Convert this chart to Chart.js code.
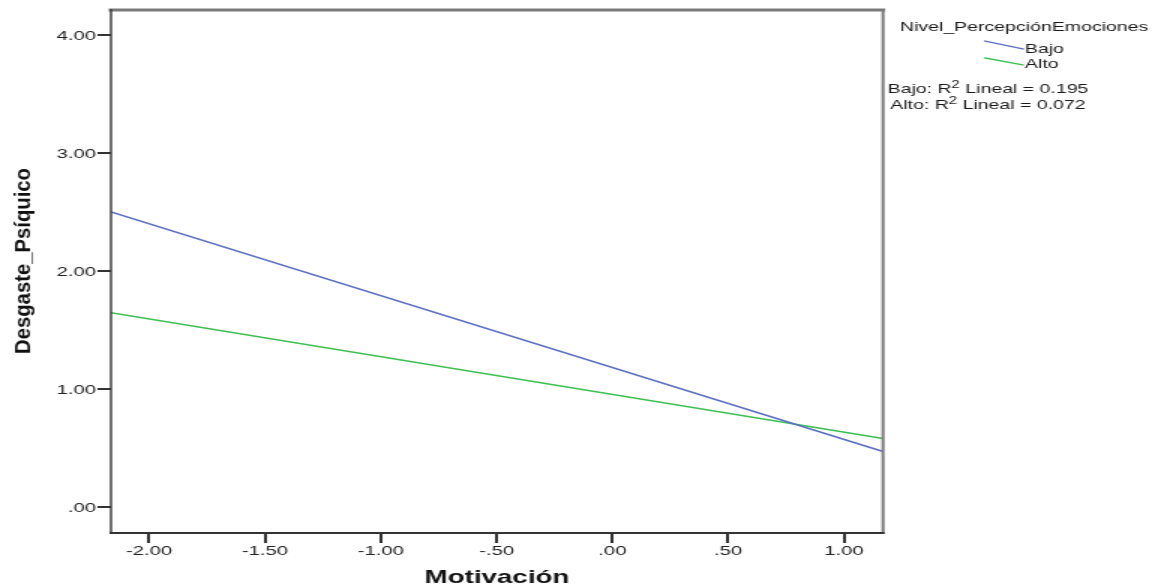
<!DOCTYPE html>
<html lang="es">
<head>
    <script src="https://cdn.jsdelivr.net/npm/chart.js@4.4.0/dist/chart.umd.min.js"></script>
    <style>
        body { margin: 0; background: #fff; }
        #canvas-container { position: relative; width: 1161px; height: 586px; }
    </style>
</head>
<body>

<div id="canvas-container">
    <!-- drawn narrow, shown 1.5x wider like the stretched SPSS export -->
    <canvas id="fit-chart" width="774" height="586" style="width:1161px;height:586px"></canvas>
</div>

<script>
    // fitted lines (ends at the plot edges)
    const xValues = [-2.164, 1.168];
    const bajoValues = [2.50, 0.47];
    const altoValues = [1.645, 0.58];

    const seriesNames = ["Bajo", "Alto"];
    const r2Values = ["0.195", "0.072"];
    const legendTitle = "Nivel_PercepciónEmociones";

    const xTicks = [-2, -1.5, -1, -0.5, 0, 0.5, 1];
    const xTickLabels = ["-2.00", "-1.50", "-1.00", "-.50", ".00", ".50", "1.00"];
    const yTicks = [0, 1, 2, 3, 4];
    const yTickLabels = [".00", "1.00", "2.00", "3.00", "4.00"];

    const bajoColor = "#5b6fc2";
    const altoColor = "#3dbf52";
    const FONT = "'Liberation Sans', Arial, sans-serif";
    const SX = 1.5; // horizontal stretch of the displayed canvas

    const toPoints = ys => xValues.map((x, i) => ({ x: x, y: ys[i] }));

    // frame, y title and the SPSS style legend
    const extras = {
        id: "extras",
        afterDraw(chart) {
            const ctx = chart.ctx;
            const a = chart.chartArea;
            ctx.save();

            // frame
            ctx.lineCap = "square";
            ctx.strokeStyle = "#7a7a7a";
            ctx.lineWidth = 3;
            ctx.beginPath();
            ctx.moveTo(a.left, a.top);
            ctx.lineTo(a.right, a.top);
            ctx.stroke();
            ctx.lineWidth = 2;
            ctx.beginPath();
            ctx.moveTo(a.right, a.top);
            ctx.lineTo(a.right, a.bottom);
            ctx.stroke();
            ctx.strokeStyle = "#333";
            ctx.lineWidth = 1.4;
            ctx.beginPath();
            ctx.moveTo(a.left, a.top);
            ctx.lineTo(a.left, a.bottom);
            ctx.stroke();
            ctx.lineWidth = 2;
            ctx.beginPath();
            ctx.moveTo(a.left, a.bottom);
            ctx.lineTo(a.right, a.bottom);
            ctx.stroke();

            // y title, condensed along its length (not stretched on screen)
            ctx.save();
            ctx.translate(23 / SX, 261);
            ctx.rotate(-Math.PI / 2);
            ctx.font = "bold 23px " + FONT;
            const tw = ctx.measureText("Desgaste_Psíquico").width;
            ctx.scale(186 / tw, 1 / SX);
            ctx.fillStyle = "#111";
            ctx.textAlign = "center";
            ctx.textBaseline = "middle";
            ctx.fillText("Desgaste_Psíquico", 0, 0);
            ctx.restore();

            // legend
            ctx.fillStyle = "#1a1a1a";
            ctx.textBaseline = "alphabetic";
            ctx.textAlign = "left";
            ctx.font = "13px " + FONT;
            ctx.fillText(legendTitle, 900 / SX, 31);

            const colors = [bajoColor, altoColor];
            const rows = [[41, 49, 53], [58, 65, 68]];
            ctx.lineWidth = 1.3;
            seriesNames.forEach((name, i) => {
                ctx.strokeStyle = colors[i];
                ctx.beginPath();
                ctx.moveTo(985 / SX, rows[i][0]);
                ctx.lineTo(1023 / SX, rows[i][1]);
                ctx.stroke();
                ctx.fillText(name, 1025 / SX, rows[i][2]);
            });

            // R2 lines, centred under the legend
            const baselines = [93, 109];
            seriesNames.forEach((name, i) => {
                const p1 = name + ": R";
                const p2 = "2";
                const p3 = " Lineal = " + r2Values[i];
                ctx.font = "13px " + FONT;
                const w1 = ctx.measureText(p1).width;
                const w3 = ctx.measureText(p3).width;
                ctx.font = "10px " + FONT;
                const w2 = ctx.measureText(p2).width;
                let x = 988 / SX - (w1 + w2 + w3) / 2;
                const y = baselines[i];
                ctx.font = "13px " + FONT;
                ctx.fillText(p1, x, y);
                x += w1;
                ctx.font = "10px " + FONT;
                ctx.fillText(p2, x, y - 5);
                x += w2;
                ctx.font = "13px " + FONT;
                ctx.fillText(p3, x, y);
            });

            ctx.restore();
        }
    };

    new Chart(document.getElementById("fit-chart"), {
        type: "scatter",
        data: {
            datasets: [
                {
                    label: seriesNames[0],
                    data: toPoints(bajoValues),
                    showLine: true,
                    borderColor: bajoColor,
                    borderWidth: 1.5,
                    pointRadius: 0
                },
                {
                    label: seriesNames[1],
                    data: toPoints(altoValues),
                    showLine: true,
                    borderColor: altoColor,
                    borderWidth: 1.5,
                    pointRadius: 0
                }
            ]
        },
        options: {
            responsive: false,
            animation: false,
            devicePixelRatio: 1,
            layout: { padding: { top: 10, right: 774 - 883 / SX, left: 0, bottom: 0 } },
            plugins: {
                legend: { display: false },
                tooltip: { enabled: false }
            },
            scales: {
                x: {
                    type: "linear",
                    min: xValues[0],
                    max: xValues[1],
                    afterBuildTicks: s => { s.ticks = xTicks.map(v => ({ value: v })); },
                    afterFit: s => { s.height = 53; },
                    grid: { drawOnChartArea: false, tickLength: 10, color: "#333", lineWidth: 2 },
                    border: { display: false },
                    ticks: {
                        autoSkip: false,
                        maxRotation: 0,
                        padding: 0,
                        color: "#222",
                        font: { family: FONT, size: 13.5 },
                        callback: v => xTickLabels[xTicks.indexOf(v)]
                    },
                    title: {
                        display: true,
                        text: "Motivación",
                        color: "#111",
                        font: { family: FONT, size: 18.5, weight: "bold" },
                        padding: { top: 0, bottom: -3 }
                    }
                },
                y: {
                    type: "linear",
                    min: -0.22,
                    max: 4.21,
                    afterBuildTicks: s => { s.ticks = yTicks.map(v => ({ value: v })); },
                    afterFit: s => { s.width = 111 / SX; },
                    grid: { drawOnChartArea: false, tickLength: 9, color: "#333", lineWidth: 2 },
                    border: { display: false },
                    ticks: {
                        padding: 1,
                        labelOffset: 1.5,
                        color: "#222",
                        font: { family: FONT, size: 13.5 },
                        callback: v => yTickLabels[yTicks.indexOf(v)]
                    }
                }
            }
        },
        plugins: [extras]
    });
</script>

</body>
</html>
